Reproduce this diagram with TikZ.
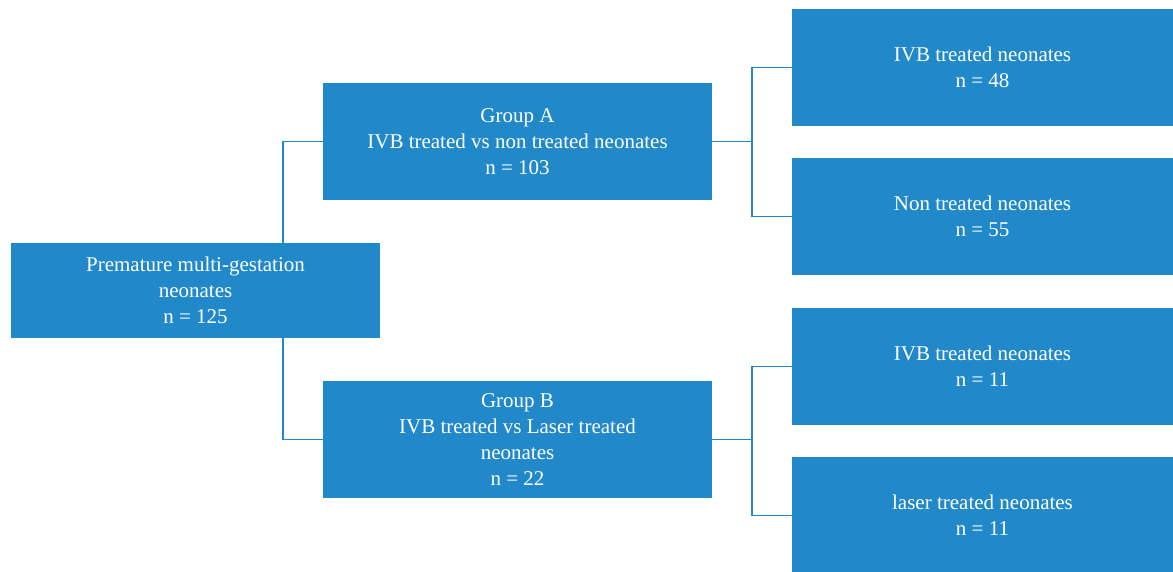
\documentclass[tikz,border=0pt]{standalone}
\usepackage{fontspec}
\setmainfont{Liberation Serif}
\usetikzlibrary{calc}
\definecolor{boxblue}{HTML}{2189C9}
\begin{document}
\begin{tikzpicture}[x=1pt,y=-1pt,
  box/.style={fill=boxblue, text=white, align=center, font=\fontsize{21}{26}\selectfont,
    inner sep=0pt, outer sep=0pt, anchor=north west},
  leaf/.style={box, minimum width=381pt, minimum height=117pt},
  mid/.style={box, minimum width=389pt, minimum height=117pt},
  link/.style={draw=boxblue, line width=1.2pt}]
\useasboundingbox (0,0) rectangle (1173,571);
\clip (0,0) rectangle (1173,571);

\node[box, minimum width=369pt, minimum height=95pt] (root) at (11,243)
  {Premature multi-gestation\\neonates\\n = 125};
\node[mid] (A) at (323,83) {Group A\\IVB treated vs non treated neonates\\n = 103};
\node[mid] (B) at (323,381) {Group B\\IVB treated vs Laser treated\\neonates\\n = 22};
\node[leaf] (c1) at (792,9) {IVB treated neonates\\n = 48};
\node[leaf] (c2) at (792,158) {Non treated neonates\\n = 55};
\node[leaf] (c3) at (792,308) {IVB treated neonates\\n = 11};
\node[leaf] (c4) at (792,457) {laser treated neonates\\n = 11};

\coordinate (rt) at ($(root.north west)+(272,0)$);
\coordinate (rb) at ($(root.south west)+(272,0)$);
\draw[link] (rt) |- (A.west);
\draw[link] (rb) |- (B.west);

\coordinate (ja) at ($(A.east)+(40,0)$);
\draw[link] (A.east) -- (ja);
\draw[link] (c1.west) -| (ja) |- (c2.west);

\coordinate (jb) at ($(B.east)+(40,0)$);
\draw[link] (B.east) -- (jb);
\draw[link] (c3.west) -| (jb) |- (c4.west);
\end{tikzpicture}
\end{document}
